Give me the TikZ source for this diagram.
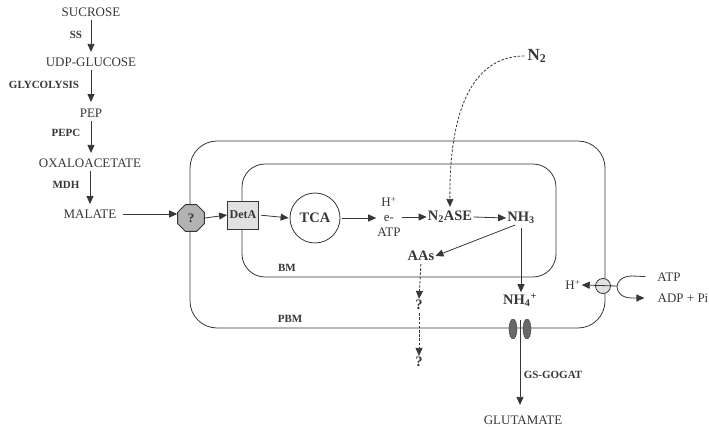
\documentclass[tikz,border=0pt]{standalone}
\usepackage{fontspec}
\setmainfont{Liberation Serif}
\usepackage{tikz}
\usetikzlibrary{arrows.meta,shapes.geometric,positioning}
\definecolor{ink}{RGB}{55,55,55}
\definecolor{lightfill}{RGB}{225,225,225}
\definecolor{octfill}{RGB}{178,178,178}
\definecolor{chanfill}{RGB}{105,105,105}
\tikzset{
  every node/.style={font=\fontsize{13}{15}\selectfont,text=ink,inner sep=1pt},
  metab/.style={inner sep=3.5pt},
  enzlabel/.style={font=\fontsize{11}{13}\selectfont\bfseries},
  cellname/.style={font=\fontsize{14.5}{16}\selectfont\bfseries},
  membrane/.style={draw=ink,line width=0.8pt},
  flow/.style={draw=ink,line width=0.8pt,-{Triangle[length=8pt,width=7pt]}},
  dflow/.style={flow,dash pattern=on 2.6pt off 1.6pt},
  transporter/.style={regular polygon,regular polygon sides=8,draw=ink,fill=octfill,line width=0.8pt,minimum size=29pt,inner sep=0pt,font=\fontsize{13}{15}\selectfont\bfseries},
  carrierbox/.style={rectangle,draw=ink,fill=lightfill,line width=0.8pt,minimum width=31pt,minimum height=28pt,inner sep=0pt,font=\fontsize{12}{14}\selectfont\bfseries},
  cyclenode/.style={circle,draw=ink,line width=0.8pt,minimum size=50pt,inner sep=0pt},
  atpase/.style={circle,draw=ink,fill=lightfill,line width=0.8pt,minimum size=15pt,inner sep=0pt},
  channel/.style={ellipse,draw=ink,fill=chanfill,line width=0.4pt,minimum width=8pt,minimum height=20pt,inner sep=0pt}
}

\begin{document}
\begin{tikzpicture}[x=1pt,y=-1pt]
\useasboundingbox (0,0) rectangle (709,427);
% membranes, drawn first
\draw[membrane,rounded corners=27pt] (190,141) rectangle (605,328);
\draw[membrane,rounded corners=23pt] (242,164) rectangle (556,277);
\node[enzlabel] (bm) at (287,268) {BM};
\node[enzlabel] (pbm) at (290,319) {PBM};
% cytosol: sucrose down to malate
\node[metab] (sucrose) at (91,12) {SUCROSE};
\node[metab] (udpglc) at (91,62) {UDP-GLUCOSE};
\node[metab] (pep) at (91,113) {PEP};
\node[metab] (oaa) at (90,163) {OXALOACETATE};
\node[metab] (malate) at (90,214) {MALATE};
\node[enzlabel] (ss) at (76,35) {SS};
\node[enzlabel] (glyc) at (44,85) {GLYCOLYSIS};
\node[enzlabel] (pepc) at (66,133) {PEPC};
\node[enzlabel] (mdh) at (66,185) {MDH};
\draw[flow,shorten >=2pt] (sucrose.south) -- (sucrose.south |- udpglc.north);
\draw[flow,shorten >=3pt] (udpglc.south) -- (udpglc.south |- pep.north);
\draw[flow,shorten >=2pt] (pep.south) -- (pep.south |- oaa.north);
\draw[flow,shorten >=2pt] (oaa.south) -- (oaa.south |- malate.north);
% bacteroid side
\node[transporter] (oct) at (191,218) {?};
\node[carrierbox] (deta) at (243,215) {DetA};
\node[cyclenode,cellname] (tca) at (315,218) {TCA};
\node[align=center] (carriers) at (389,217) {H\textsuperscript{+}\\e-\\ATP};
\node[cellname] (nase) at (450,217) {N\textsubscript{2}ASE};
\node[cellname] (nh3) at (521,218) {NH\textsubscript{3}};
\node[cellname] (aas) at (421,256) {AAs};
\node[cellname] (q1) at (419,305) {?};
\node[cellname] (q2) at (419,362) {?};
\node[cellname] (nh4) at (520,300) {NH\textsubscript{4}\textsuperscript{+}};
\node[channel] (chanl) at (513,329) {};
\node[channel] (chanr) at (527,329) {};
\coordinate (chanmid) at (520,320);
\node[metab] (glut) at (523,420) {GLUTAMATE};
\node[enzlabel] (gsgogat) at (553,375) {GS-GOGAT};
\node[cellname,font=\fontsize{17}{19}\selectfont\bfseries] (n2) at (537,56) {N\textsubscript{2}};
\draw[flow,shorten <=3pt] (malate.east) -- (oct.west |- malate.east);
\draw[flow] (oct.east) -- (deta.west);
\draw[flow,shorten <=2pt,shorten >=1pt] (deta.east) -- (tca.west);
\draw[flow,shorten <=2pt] (tca.east) -- (carriers.west |- tca.east);
\draw[flow] (carriers.east |- nase.west) -- (nase.west);
\draw[flow] (nase.east) -- (nh3.west);
\draw[flow] ([xshift=-6pt]nh3.south) -- (aas.east);
\draw[flow,shorten <=3pt] (nh3.south) -- (nh3.south |- nh4.north);
\draw[dflow,shorten <=2pt] (aas.south) -- (q1.north);
\draw[dflow,shorten <=2pt] (q1.south) -- (q2.north);
\draw[flow,shorten >=7pt] (chanmid) -- (chanmid |- glut.north);
\draw[dflow,shorten <=2pt,shorten >=3pt] (n2.west) .. controls (478,56) and (449,100) .. (nase.north);
% proton pump on the PBM
\node[atpase] (pump) at (603,286) {};
\node (hplus) at (573,285) {H\textsuperscript{+}};
\node (atp) at (669,277) {ATP};
\node (adp) at (683,298) {ADP + Pi};
\coordinate (pumpv) at (617,286);
\draw[flow] (pumpv) -- (hplus.east);
\draw[flow,shorten <=11pt,shorten >=12pt] (atp.west) -- (632,276) .. controls (612,276) and (612,298) .. (632,298) -- (adp.west);
\end{tikzpicture}
\end{document}
